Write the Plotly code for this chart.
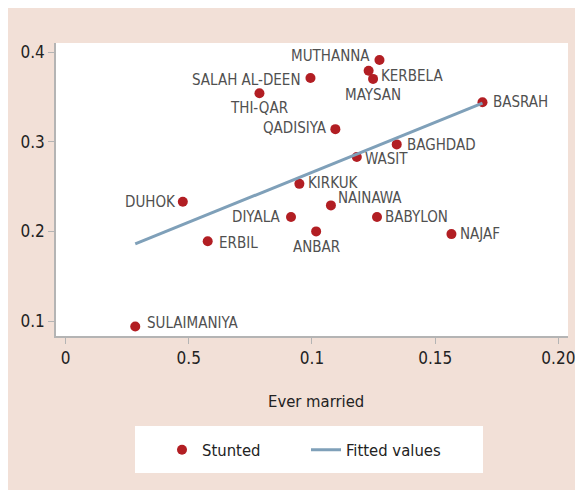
import plotly.graph_objects as go

# ---- data ----
provinces = ["MUTHANNA", "KERBELA", "MAYSAN", "SALAH AL-DEEN", "THI-QAR", "QADISIYA",
             "WASIT", "KIRKUK", "BAGHDAD", "BASRAH", "NAINAWA", "BABYLON", "DIYALA",
             "ANBAR", "ERBIL", "NAJAF", "SULAIMANIYA", "DUHOK"]
ever_married = [0.1274, 0.1230, 0.1248, 0.0994, 0.0787, 0.1095,
                0.1182, 0.0949, 0.1344, 0.1692, 0.1077, 0.1264, 0.0915,
                0.1017, 0.0577, 0.1566, 0.0283, 0.0476]
stunted = [0.391, 0.379, 0.370, 0.371, 0.354, 0.314,
           0.283, 0.253, 0.297, 0.344, 0.229, 0.216, 0.216,
           0.200, 0.189, 0.197, 0.094, 0.233]

fit_x = [0.0283, 0.1692]
fit_y = [0.186, 0.343]

x_tickvals = [0, 0.05, 0.10, 0.15, 0.20]
x_ticktext = ["0", "0.5", "0.1", "0.15", "0.20"]
y_tickvals = [0.1, 0.2, 0.3, 0.4]
y_ticktext = ["0.1", "0.2", "0.3", "0.4"]

# ---- styles ----
FONT = "Liberation Sans Narrow, DejaVu Sans Condensed, Arial Narrow, sans-serif"
RED = "#b21e23"
BLUE = "#7fa0b9"
PINK = "#f2e0d7"
AXIS = "#b4b4b4"

# label placement: (xanchor, xshift, yshift)
label_pos = {
    "MUTHANNA": ("right", -7, 4), "KERBELA": ("left", 10, -5), "MAYSAN": ("center", 0, -16),
    "SALAH AL-DEEN": ("right", -7, -2), "THI-QAR": ("center", 0, -15),
    "QADISIYA": ("right", -6, 1), "WASIT": ("left", 6, -2), "KIRKUK": ("left", 7, 1),
    "BAGHDAD": ("left", 8, -1), "BASRAH": ("left", 9, 0), "NAINAWA": ("left", 5, 7),
    "BABYLON": ("left", 6, 0), "DIYALA": ("right", -8, 0), "ANBAR": ("center", 0, -16),
    "ERBIL": ("left", 9, -2), "NAJAF": ("left", 7, 0), "SULAIMANIYA": ("left", 10, 3),
    "DUHOK": ("right", -5, 0),
}

fig = go.Figure()
fig.add_trace(go.Scatter(x=ever_married, y=stunted, mode="markers", name="Stunted",
                         marker=dict(color=RED, size=10, line=dict(width=0)),
                         legendwidth=99))
fig.add_trace(go.Scatter(x=fit_x, y=fit_y, mode="lines", name="Fitted values",
                         line=dict(color=BLUE, width=3), legendwidth=120))

annotations = []
for name, xv, yv in zip(provinces, ever_married, stunted):
    xa, xs, ys = label_pos[name]
    annotations.append(dict(x=xv, y=yv, xref="x", yref="y", text=name, showarrow=False,
                            xanchor=xa, yanchor="middle", xshift=xs, yshift=ys,
                            font=dict(family=FONT, size=15, color="#505050")))
annotations.append(dict(x=0.508, y=-0.225, xref="paper", yref="paper", text="Ever married",
                        showarrow=False, xanchor="center", yanchor="middle",
                        font=dict(family=FONT, size=16.5, color="#222222")))

shapes = [
    dict(type="rect", xref="paper", yref="paper", x0=0.1543, x1=0.834, y0=-0.4676, y1=-0.3072,
         fillcolor="white", line=dict(width=0), layer="below"),
]

fig.update_layout(
    width=583, height=490,
    margin=dict(l=48, r=23, t=35, b=162, pad=0),
    paper_bgcolor=PINK, plot_bgcolor="white",
    font=dict(family=FONT, color="#222222"),
    showlegend=True,
    legend=dict(orientation="h", x=(161 - 55) / 512, xanchor="left", y=(336 - 450) / 293,
                yanchor="middle", bgcolor="rgba(0,0,0,0)", borderwidth=0,
                font=dict(family=FONT, size=16.5, color="#222222"), itemwidth=30),
    annotations=annotations,
    shapes=shapes,
    xaxis=dict(range=[-0.00386, 0.2039], tickmode="array", tickvals=x_tickvals,
               ticktext=x_ticktext,
               showgrid=False, zeroline=False, showline=True, linecolor=AXIS, linewidth=1.5,
               ticks="outside", ticklen=6, tickcolor=AXIS, tickwidth=1.2,
               tickfont=dict(family=FONT, size=17, color="#222222")),
    yaxis=dict(range=[0.08339, 0.41003], tickmode="array", tickvals=y_tickvals,
               ticktext=y_ticktext,
               showgrid=False, zeroline=False, showline=True, linecolor=AXIS, linewidth=1.5,
               ticks="outside", ticklen=6, tickcolor=AXIS, tickwidth=1.2,
               tickfont=dict(family=FONT, size=17, color="#222222")),
)

fig.write_html("out.html")
